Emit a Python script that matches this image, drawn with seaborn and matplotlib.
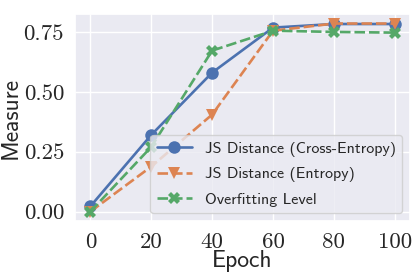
import matplotlib
matplotlib.use("Agg")
import matplotlib.pyplot as plt
import seaborn as sns
import pandas as pd

epochs = [0, 20, 40, 60, 80, 100]
js_cross_entropy = [0.022, 0.32, 0.58, 0.768, 0.783, 0.783]
js_entropy = [0.0, 0.188, 0.405, 0.755, 0.785, 0.785]
overfitting = [0.0, 0.27, 0.672, 0.755, 0.75, 0.747]
series_names = ["JS Distance (Cross-Entropy)", "JS Distance (Entropy)", "Overfitting Level"]
yticks = [0.0, 0.25, 0.5, 0.75]
ytick_labels = ["0.00", "0.25", "0.50", "0.75"]
xticks = [0, 20, 40, 60, 80, 100]

sns.set_theme(style="darkgrid")
plt.rcParams["axes.formatter.use_mathtext"] = True

rows = []
for name, vals in zip(series_names, [js_cross_entropy, js_entropy, overfitting]):
    for e, v in zip(epochs, vals):
        rows.append({"Epoch": e, "Measure": v, "Series": name})
df = pd.DataFrame(rows)

fig = plt.figure(figsize=(4.15, 2.77), dpi=100)
ax = fig.add_axes([0.181, 0.202, 0.807, 0.747])

sns.lineplot(data=df, x="Epoch", y="Measure", hue="Series", style="Series",
             markers=["o", "v", "X"], dashes=["", (4, 1.5), (4, 1.5)],
             linewidth=1.9, markersize=9, markeredgewidth=0,
             hue_order=series_names, style_order=series_names, ax=ax)

ax.set_xticks(xticks)
ax.set_xticklabels([str(x) for x in xticks], fontfamily="cmr10", fontsize=16.5)
ax.set_yticks(yticks)
ax.set_yticklabels(ytick_labels, fontfamily="cmr10", fontsize=16.5)
ax.tick_params(axis="both", pad=2)
ax.set_xlabel("Epoch", fontfamily="cmss10", fontsize=17, labelpad=-1)
ax.set_ylabel("Measure", fontfamily="cmss10", fontsize=17, labelpad=1)

leg = ax.get_legend()
handles = leg.legend_handles
for h in handles:
    h.set_markeredgewidth(0)
    h.set_markersize(9)
labels = [t.get_text() for t in leg.texts]
ax.legend(handles, labels, loc="lower right", prop={"family": "cmss10", "size": 11.5},
          frameon=True, handlelength=2.2, borderaxespad=0.5, labelspacing=0.65)

fig.savefig("out.png", dpi=100)
